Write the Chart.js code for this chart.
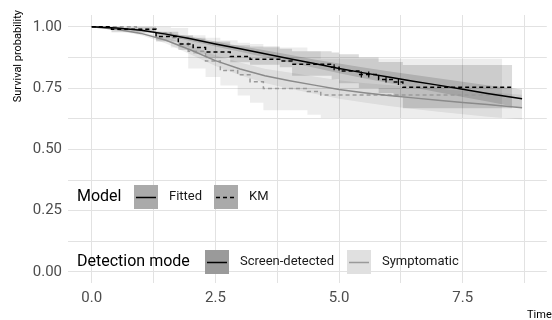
<!DOCTYPE html>
<html>
<head>
<meta charset="utf-8">
<script src="https://cdn.jsdelivr.net/npm/chart.js@4.4.1/dist/chart.umd.min.js"></script>
<style>
  html, body { margin: 0; padding: 0; background: #fff; }
</style>
</head>
<body>
<canvas id="km" width="552" height="320"></canvas>
<script>
// fitted curves (smooth)
const fitTime = [0, 0.5, 1, 1.5, 2, 2.5, 3, 3.5, 4, 4.5, 5, 5.5, 6, 6.5, 7, 7.5, 8, 8.7];
const screenFit   = [1.0, 0.995, 0.986, 0.97, 0.951, 0.93, 0.91, 0.89, 0.87, 0.85, 0.83, 0.812, 0.795, 0.778, 0.762, 0.745, 0.728, 0.706];
const screenFitLo = [1.0, 0.993, 0.982, 0.963, 0.942, 0.92, 0.898, 0.876, 0.854, 0.833, 0.81, 0.79, 0.771, 0.752, 0.733, 0.714, 0.695, 0.668];
const screenFitHi = [1.0, 0.997, 0.99, 0.977, 0.96, 0.94, 0.922, 0.904, 0.886, 0.867, 0.85, 0.834, 0.819, 0.804, 0.79, 0.776, 0.762, 0.744];
const sympFit     = [1.0, 0.99, 0.973, 0.945, 0.905, 0.862, 0.828, 0.8, 0.78, 0.762, 0.744, 0.731, 0.72, 0.71, 0.70, 0.691, 0.683, 0.670];
const sympFitLo   = [1.0, 0.985, 0.965, 0.932, 0.887, 0.84, 0.802, 0.771, 0.747, 0.727, 0.706, 0.691, 0.677, 0.665, 0.653, 0.643, 0.633, 0.622];
const sympFitHi   = [1.0, 0.995, 0.981, 0.958, 0.923, 0.884, 0.854, 0.829, 0.813, 0.797, 0.782, 0.771, 0.763, 0.755, 0.747, 0.739, 0.733, 0.723];

// Kaplan-Meier step curves
const kmScreenTime = [0, 0.4, 1.3, 1.75, 2.05, 2.3, 2.8, 3.2, 3.8, 4.05, 4.85, 5.0, 5.4, 5.8, 6.1, 6.29, 8.5];
const kmScreen     = [1.0, 0.99, 0.96, 0.93, 0.915, 0.897, 0.879, 0.868, 0.86, 0.847, 0.835, 0.82, 0.805, 0.785, 0.775, 0.753, 0.753];
const kmScreenLo   = [1.0, 0.978, 0.94, 0.905, 0.89, 0.872, 0.855, 0.845, 0.835, 0.8, 0.785, 0.77, 0.75, 0.73, 0.715, 0.668, 0.668];
const kmScreenHi   = [1.0, 1.0, 0.98, 0.965, 0.955, 0.94, 0.925, 0.92, 0.91, 0.9, 0.895, 0.888, 0.875, 0.856, 0.856, 0.844, 0.844];
const kmSympTime = [0, 0.9, 1.3, 1.6, 1.95, 2.3, 2.6, 2.95, 3.2, 3.47, 4.36, 4.63, 8.3];
const kmSymp     = [1.0, 0.99, 0.975, 0.955, 0.9, 0.86, 0.822, 0.804, 0.776, 0.748, 0.736, 0.722, 0.722];
const kmSympLo   = [1.0, 0.975, 0.945, 0.915, 0.83, 0.795, 0.76, 0.72, 0.69, 0.66, 0.641, 0.628, 0.628];
const kmSympHi   = [1.0, 1.0, 1.0, 0.995, 0.965, 0.955, 0.945, 0.935, 0.93, 0.915, 0.9, 0.87, 0.87];

// censoring marks on the screen-detected KM curve
const censorTime = [4.9, 5.45, 5.6, 5.95, 6.2];
const censorSurv = [0.835, 0.805, 0.805, 0.785, 0.775];

const xGrid = [0, 1.25, 2.5, 3.75, 5, 6.25, 7.5, 8.75];
const xTickLabels = ['0.0', '', '2.5', '', '5.0', '', '7.5', ''];
const yGrid = [0, 0.125, 0.25, 0.375, 0.5, 0.625, 0.75, 0.875, 1.0];
const yTickLabels = ['0.00', '', '0.25', '', '0.50', '', '0.75', '', '1.00'];

const pts = (xs, ys) => xs.map((x, i) => ({ x: x, y: ys[i] }));

const SCREEN_BAND = 'rgba(0, 0, 0, 0.14)';
const SYMP_BAND = 'rgba(0, 0, 0, 0.07)';

const line = (label, xs, ys, color, dash, stepped) => ({
    label: label,
    data: pts(xs, ys),
    borderColor: color,
    borderWidth: 1.5,
    borderDash: dash,
    stepped: stepped,
    pointRadius: 0,
    fill: false
});

const band = (xs, ys, color, stepped, fillTo) => ({
    data: pts(xs, ys),
    borderWidth: 0,
    borderColor: 'rgba(0,0,0,0)',
    backgroundColor: color,
    stepped: stepped,
    pointRadius: 0,
    fill: fillTo
});

const datasets = [
    {
        label: 'censor',
        type: 'scatter',
        data: pts(censorTime, censorSurv),
        pointStyle: 'line',
        rotation: 90,
        pointRadius: 3,
        borderColor: '#000',
        borderWidth: 1.2
    },
    line('Screen fitted', fitTime, screenFit, '#000000', [], false),
    line('Screen KM', kmScreenTime, kmScreen, '#000000', [4, 3], true),
    line('Symp fitted', fitTime, sympFit, '#8a8a8a', [], false),
    line('Symp KM', kmSympTime, kmSymp, '#9a9a9a', [4, 3], true),
    band(fitTime, screenFitLo, SCREEN_BAND, false, false),
    band(fitTime, screenFitHi, SCREEN_BAND, false, '-1'),
    band(kmScreenTime, kmScreenLo, SCREEN_BAND, true, false),
    band(kmScreenTime, kmScreenHi, SCREEN_BAND, true, '-1'),
    band(fitTime, sympFitLo, SYMP_BAND, false, false),
    band(fitTime, sympFitHi, SYMP_BAND, false, '-1'),
    band(kmSympTime, kmSympLo, SYMP_BAND, true, false),
    band(kmSympTime, kmSympHi, SYMP_BAND, true, '-1')
];

const drawKey = (ctx, x, y, fill, stroke, dash) => {
    ctx.fillStyle = fill;
    ctx.fillRect(x, y - 12, 24, 24);
    ctx.strokeStyle = stroke;
    ctx.lineWidth = 1.5;
    ctx.setLineDash(dash);
    ctx.beginPath();
    ctx.moveTo(x + 2, y + 0.5);
    ctx.lineTo(x + 22, y + 0.5);
    ctx.stroke();
    ctx.setLineDash([]);
};

const overlay = {
    id: 'overlay',
    afterDraw(chart) {
        const ctx = chart.ctx;
        ctx.save();
        ctx.fillStyle = '#000';
        ctx.textBaseline = 'middle';

        // axis titles
        ctx.font = '11px Roboto';
        ctx.save();
        ctx.translate(18, 10);
        ctx.rotate(-Math.PI / 2);
        ctx.textAlign = 'right';
        ctx.fillText('Survival probability', 0, 0);
        ctx.restore();
        ctx.textAlign = 'left';
        ctx.fillText('Time', 527, 315);

        // Model legend
        ctx.font = '16px Roboto';
        ctx.fillStyle = '#000';
        ctx.fillText('Model', 77, 197);
        drawKey(ctx, 134, 197, '#aaaaaa', '#000', []);
        drawKey(ctx, 214, 197, '#aaaaaa', '#000', [4, 3]);
        ctx.font = '13px Roboto';
        ctx.fillStyle = '#1a1a1a';
        ctx.fillText('Fitted', 169, 197);
        ctx.fillText('KM', 249, 197);

        // Detection mode legend
        ctx.font = '16px Roboto';
        ctx.fillStyle = '#000';
        ctx.fillText('Detection mode', 77, 262);
        drawKey(ctx, 205, 262, '#9a9a9a', '#000', []);
        drawKey(ctx, 347, 262, '#e0e0e0', '#9a9a9a', []);
        ctx.font = '13px Roboto';
        ctx.fillStyle = '#1a1a1a';
        ctx.fillText('Screen-detected', 240, 262);
        ctx.fillText('Symptomatic', 382, 262);
        ctx.restore();
    }
};

Chart.defaults.font.family = 'Roboto';

new Chart(document.getElementById('km'), {
    type: 'line',
    data: { datasets: datasets },
    plugins: [overlay],
    options: {
        responsive: false,
        animation: false,
        layout: { padding: { top: 10, right: 0, bottom: 0, left: 0 } },
        plugins: {
            legend: { display: false },
            tooltip: { enabled: false }
        },
        scales: {
            x: {
                type: 'linear',
                min: -0.48,
                max: 9.2,
                afterBuildTicks: (s) => { s.ticks = xGrid.map(v => ({ value: v })); },
                afterFit: (s) => { s.height = 37; },
                border: { display: false },
                grid: { color: '#e2e2e2', lineWidth: 1, drawTicks: false },
                ticks: {
                    autoSkip: false,
                    maxRotation: 0,
                    padding: 6,
                    color: '#4d4d4d',
                    font: { size: 15 },
                    callback: (v, i) => xTickLabels[i]
                }
            },
            y: {
                min: -0.045,
                max: 1.048,
                afterBuildTicks: (s) => { s.ticks = yGrid.map(v => ({ value: v })); },
                afterFit: (s) => { s.width = 68; },
                border: { display: false },
                grid: { color: '#e2e2e2', lineWidth: 1, drawTicks: false },
                ticks: {
                    autoSkip: false,
                    padding: 6,
                    color: '#4d4d4d',
                    font: { size: 15 },
                    callback: (v, i) => yTickLabels[i]
                }
            }
        }
    }
});
</script>
</body>
</html>
